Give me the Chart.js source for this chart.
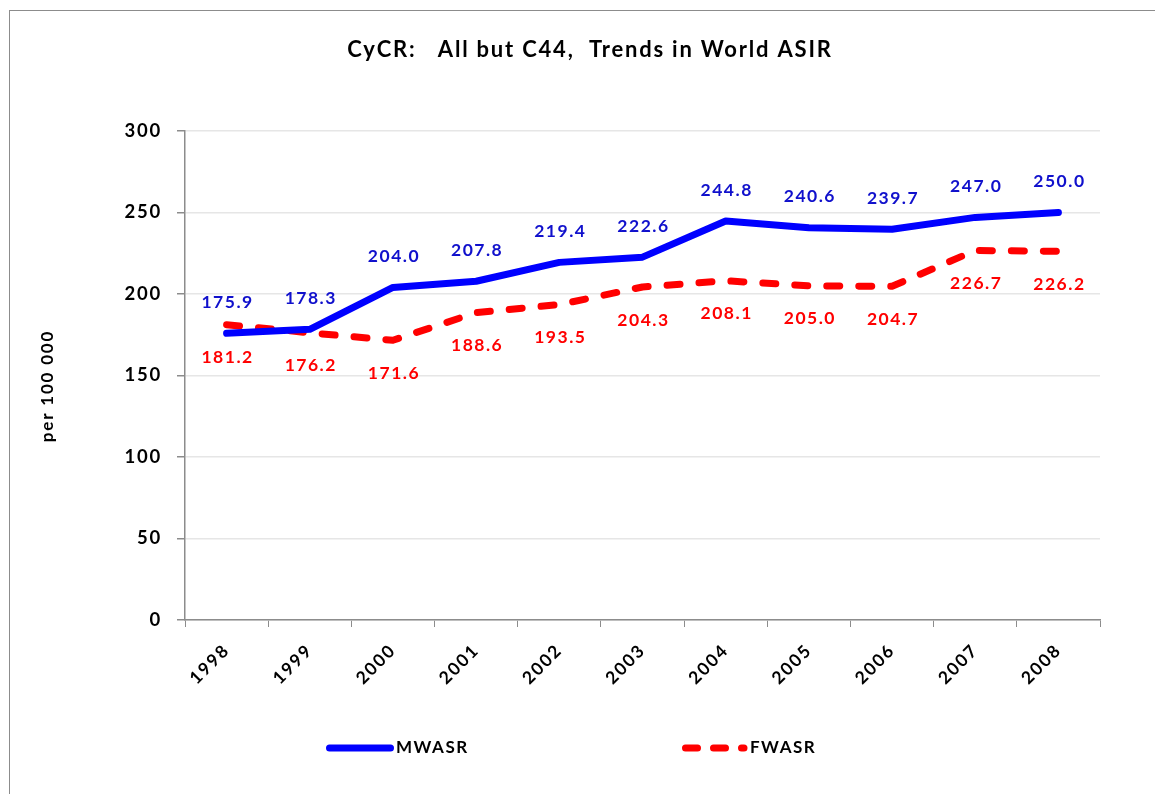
<!DOCTYPE html>
<html>
<head>
<meta charset="utf-8">
<script src="https://cdn.jsdelivr.net/npm/chart.js@4.4.1/dist/chart.umd.min.js"></script>
<style>
  html, body { margin: 0; padding: 0; background: #fff; overflow: hidden; }
  #frame { position: absolute; left: 9px; top: 10px; width: 1200px; height: 900px; border: 1.5px solid #8c8c8c; box-sizing: border-box; }
  #wrap { position: absolute; left: 0; top: 0; width: 1155px; height: 794px; }
</style>
</head>
<body>
<div id="frame"></div>
<div id="wrap"><canvas id="c" width="1155" height="794"></canvas></div>
<script>
const years = ['1998','1999','2000','2001','2002','2003','2004','2005','2006','2007','2008'];
const mwasr = [175.9, 178.3, 204.0, 207.8, 219.4, 222.6, 244.8, 240.6, 239.7, 247.0, 250.0];
const fwasr = [181.2, 176.2, 171.6, 188.6, 193.5, 204.3, 208.1, 205.0, 204.7, 226.7, 226.2];
const seriesNames = ['MWASR', 'FWASR'];
const titleText = 'CyCR:   All but C44,  Trends in World ASIR';
const yTitle = 'per 100 000';

const FONT = 'Lato, "Open Sans", "Liberation Sans", sans-serif';
const SPACING = '1.8px';

const spacingPlugin = {
  id: 'spacing',
  beforeUpdate(chart) { chart.ctx.letterSpacing = SPACING; },
  beforeLayout(chart) { chart.ctx.letterSpacing = SPACING; },
  beforeDraw(chart) { chart.ctx.letterSpacing = SPACING; }
};

const texts = {
  id: 'texts',
  afterDraw(chart) {
    const ctx = chart.ctx;
    ctx.save();
    ctx.fillStyle = '#000';
    ctx.letterSpacing = '1.8px';
    ctx.textAlign = 'center';
    ctx.textBaseline = 'middle';
    ctx.font = 'bold 22px ' + FONT;
    ctx.fillText(titleText, 590, 50);
    ctx.font = 'bold 17px ' + FONT;
    ctx.translate(48, 386);
    ctx.rotate(-Math.PI / 2);
    ctx.fillText(yTitle, 0, 0);
    ctx.restore();
  }
};

const dataLabels = {
  id: 'dataLabels',
  afterDatasetsDraw(chart) {
    const ctx = chart.ctx;
    ctx.save();
    ctx.letterSpacing = '1.5px';
    ctx.font = 'bold 17.5px ' + FONT;
    ctx.textAlign = 'center';
    ctx.textBaseline = 'middle';
    chart.data.datasets.forEach((ds, i) => {
      const meta = chart.getDatasetMeta(i);
      meta.data.forEach((pt, j) => {
        const v = ds.data[j];
        ctx.fillStyle = ds.labelColor;
        const dy = i === 0 ? -31 : 33;
        ctx.fillText(v.toFixed(1), pt.x + 1, pt.y + dy);
      });
    });
    ctx.restore();
  }
};

const customLegend = {
  id: 'customLegend',
  afterDraw(chart) {
    const ctx = chart.ctx;
    const y = 748;
    const starts = [329.5, 685.5];
    const dashes = [[], [12, 16]];
    const lens = [61, 58.5];
    ctx.save();
    chart.data.datasets.forEach((ds, i) => {
      const x0 = starts[i];
      ctx.beginPath();
      ctx.strokeStyle = ds.borderColor;
      ctx.lineWidth = 7;
      ctx.lineCap = 'round';
      ctx.setLineDash(dashes[i]);
      ctx.moveTo(x0, y);
      ctx.lineTo(x0 + lens[i], y);
      ctx.stroke();
      ctx.setLineDash([]);
      ctx.fillStyle = '#000';
      ctx.letterSpacing = '1.5px';
      ctx.font = 'bold 17px ' + FONT;
      ctx.textBaseline = 'middle';
      ctx.textAlign = 'left';
      ctx.fillText(ds.label, i === 0 ? 396 : 750, y);
    });
    ctx.restore();
  }
};

new Chart(document.getElementById('c'), {
  type: 'line',
  data: {
    labels: years,
    datasets: [
      {
        label: seriesNames[0],
        data: mwasr,
        borderColor: '#0000ff',
        labelColor: '#1010cc',
        borderWidth: 7,
        borderCapStyle: 'round',
        borderJoinStyle: 'round',
        pointRadius: 0,
        tension: 0,
        fill: false
      },
      {
        label: seriesNames[1],
        data: fwasr,
        borderColor: '#ff0000',
        labelColor: '#ff0000',
        borderWidth: 7,
        borderDash: [13, 19],
        borderCapStyle: 'round',
        borderJoinStyle: 'round',
        pointRadius: 0,
        tension: 0,
        fill: false
      }
    ]
  },
  options: {
    responsive: false,
    animation: false,
    layout: { padding: { left: 0, right: 55, top: 131, bottom: 84 } },
    plugins: {
      legend: { display: false },
      tooltip: { enabled: false },
      title: { display: false }
    },
    scales: {
      x: {
        offset: true,
        grid: { display: true, drawOnChartArea: false, drawTicks: true, tickLength: 7, offset: true, color: '#8c8c8c', tickColor: '#8c8c8c' },
        border: { display: true, color: '#8c8c8c', width: 1.5 },
        ticks: {
          color: '#000',
          font: { family: FONT, size: 17.5, weight: 'bold' },
          minRotation: 45, maxRotation: 45,
          padding: 13
        },
        afterFit(scale) { scale.height = 90; }
      },
      y: {
        min: 0, max: 300,
        ticks: {
          stepSize: 50,
          color: '#000',
          font: { family: FONT, size: 18.5, weight: 'bold' },
          padding: 15
        },
        grid: { color: '#e6e6e6', lineWidth: 1.5, tickLength: 8, tickColor: '#8c8c8c' },
        border: { display: true, color: '#8c8c8c', width: 1.5 },
        title: { display: false },
        afterFit(scale) { scale.width = 185; }
      }
    }
  },
  plugins: [spacingPlugin, dataLabels, customLegend, texts]
});
</script>
</body>
</html>
